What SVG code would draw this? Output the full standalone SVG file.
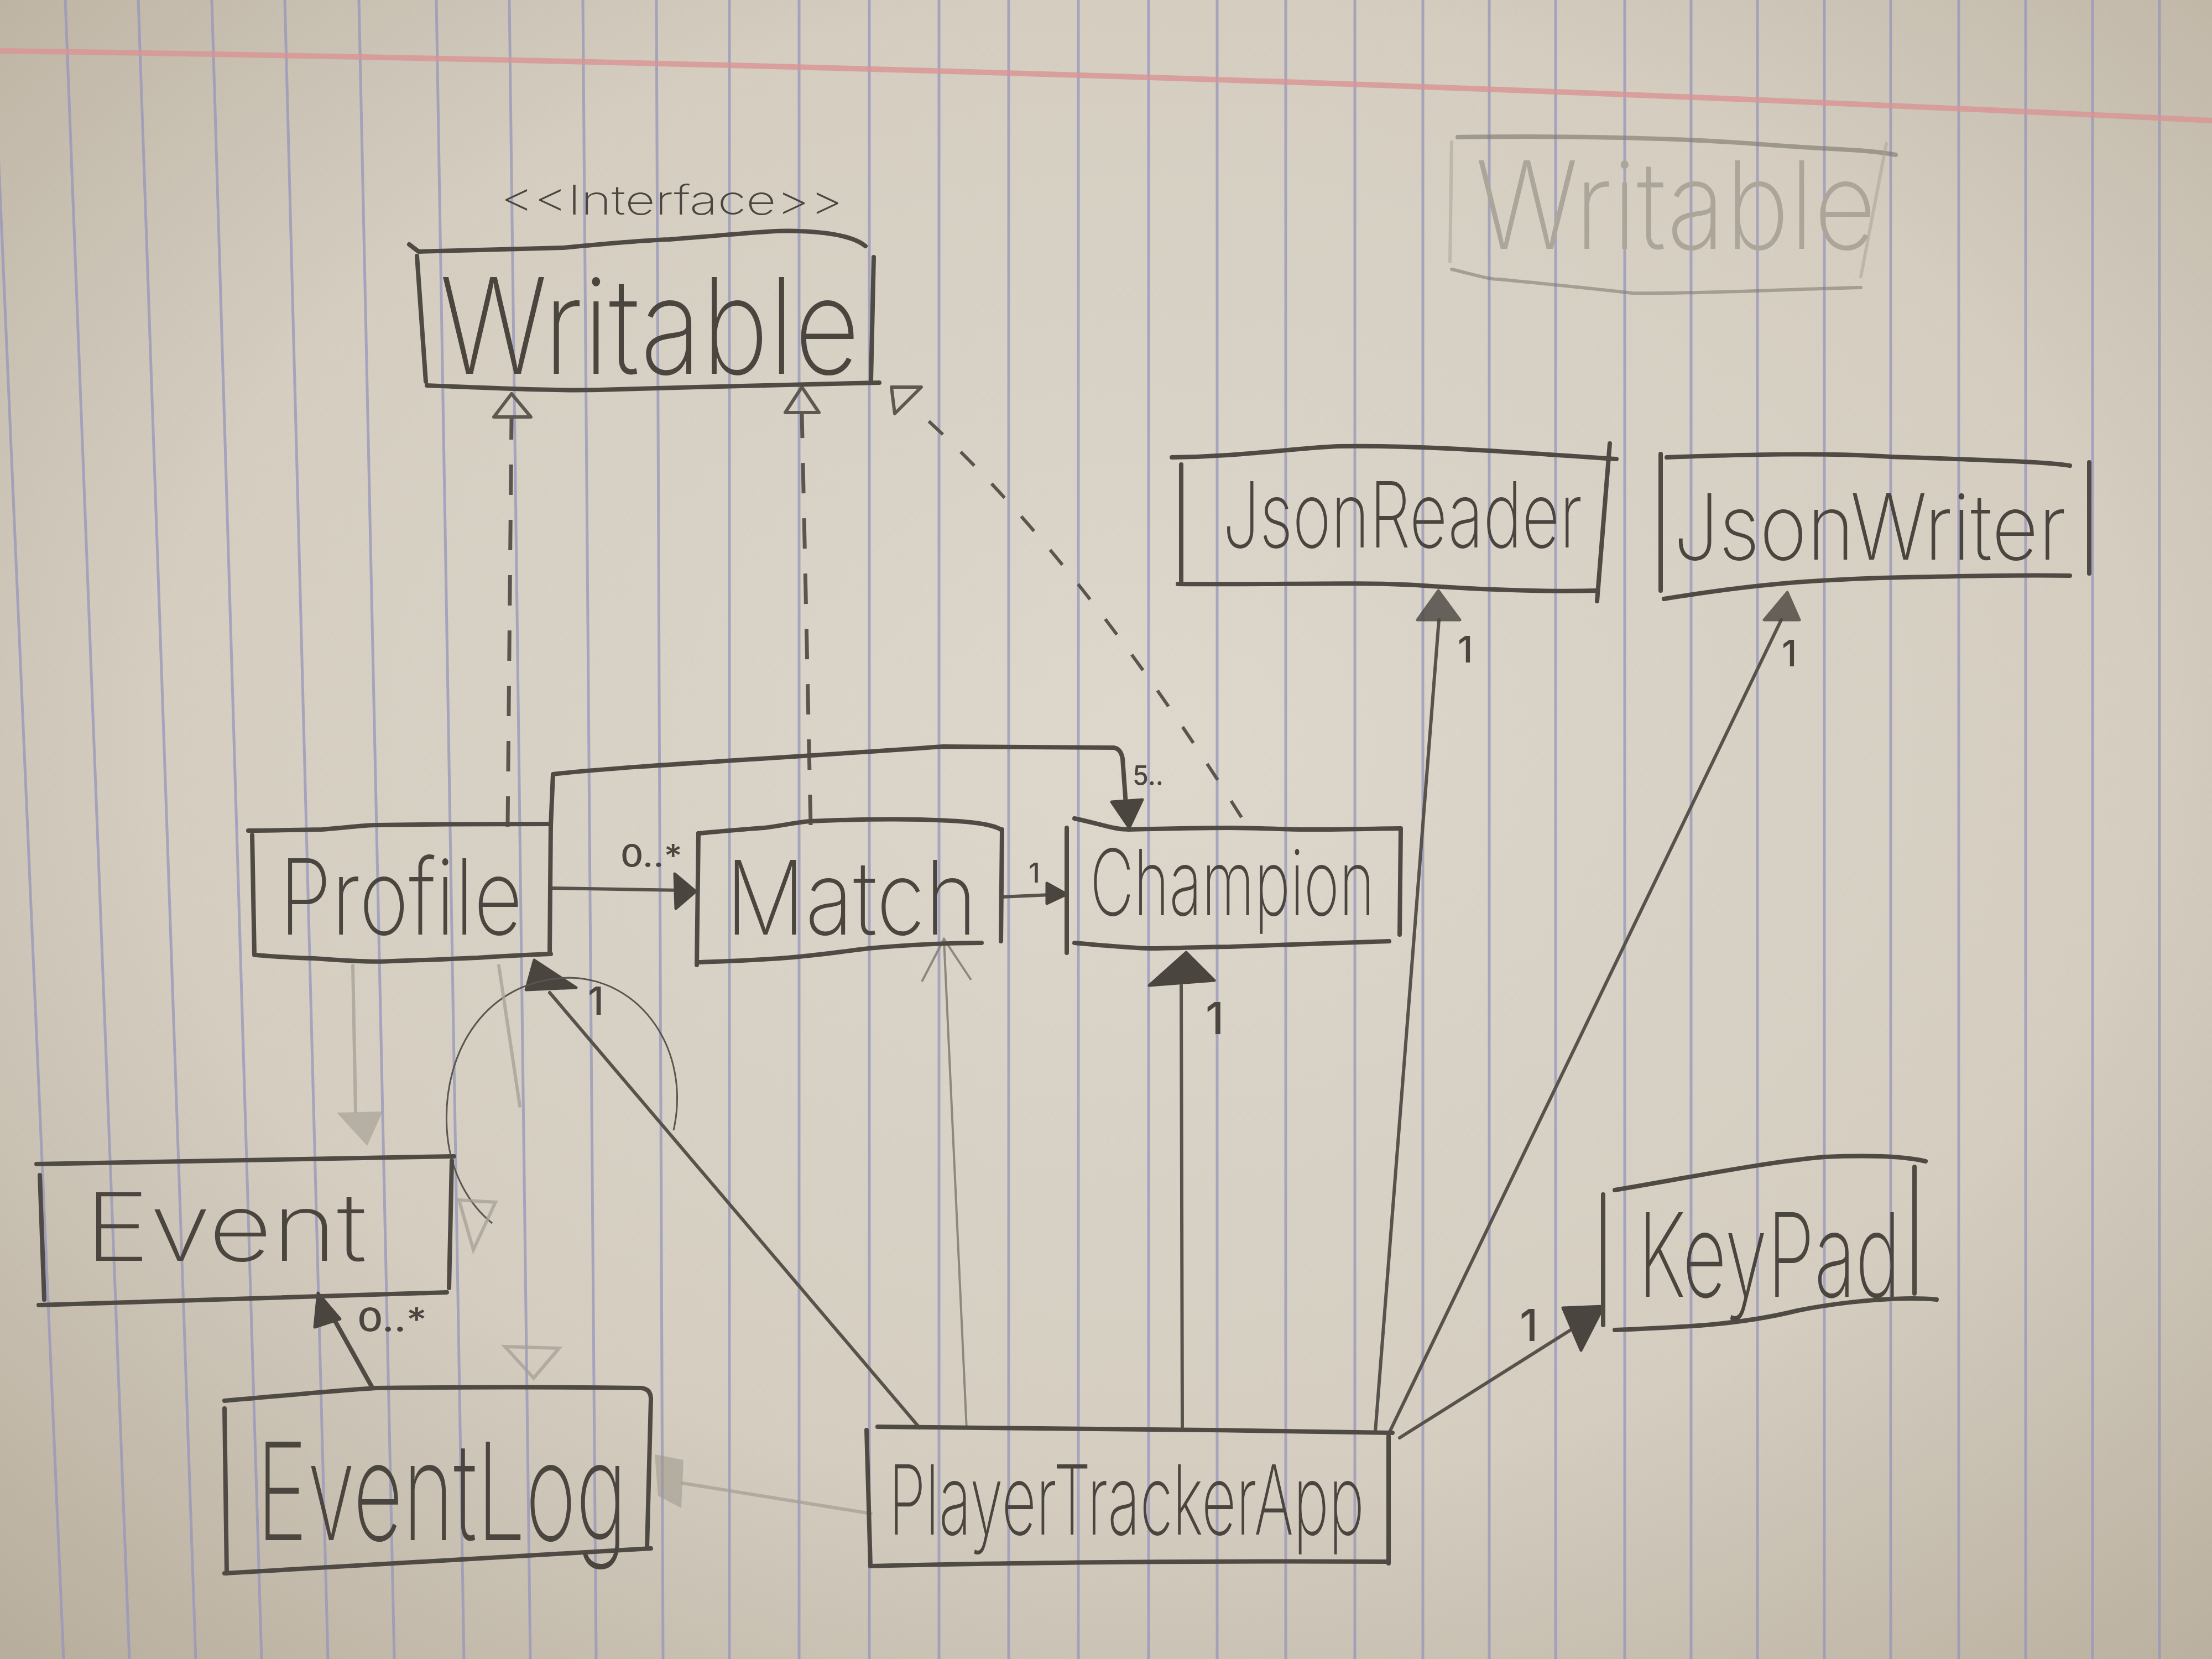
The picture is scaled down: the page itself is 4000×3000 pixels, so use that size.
<svg xmlns="http://www.w3.org/2000/svg" width="4000" height="3000" viewBox="0 0 4000 3000">
<defs>
<radialGradient id="paperGrad" cx="52%" cy="45%" r="75%">
<stop offset="0" stop-color="#ddd7cc"/>
<stop offset="0.6" stop-color="#d4cdc0"/>
<stop offset="1" stop-color="#b8ae9d"/>
</radialGradient>
<style>
.rule{stroke:#9596bb;stroke-width:5;fill:none;opacity:.75}
.ink{fill:none;stroke:#4f4a43;stroke-width:8;stroke-linecap:round;stroke-linejoin:round}
.conn{fill:none;stroke:#57524b;stroke-width:6;stroke-linecap:round}
.dash{fill:none;stroke:#5a554e;stroke-width:7;stroke-dasharray:55 45}
.dash2{fill:none;stroke:#5a554e;stroke-width:6;stroke-dasharray:35 45}
.faint{fill:none;stroke:#a59f95;stroke-width:6;opacity:.75;stroke-linecap:round}
.faintfill{fill:#9d978d;opacity:.55}
.head{fill:#4a453f;stroke:#4a453f;stroke-width:5;stroke-linejoin:round}
.open{fill:none;stroke:#5d5850;stroke-width:6;stroke-linejoin:round}
.lbl{font-family:Inter,Roboto,"DejaVu Sans",sans-serif;font-weight:200;fill:#4a453f}
.ghost{font-family:Inter,Roboto,"DejaVu Sans",sans-serif;font-weight:200;fill:#aca599}
.num{font-family:Inter,Roboto,"DejaVu Sans",sans-serif;font-weight:500;fill:#4a453f}
</style>
</defs>

<g id="paper">
<rect x="0" y="0" width="4000" height="3000" fill="url(#paperGrad)"/>
<path class="rule" d="M-15 0L115 3000M118 0L234 3000M250 0L354 3000M383 0L473 3000M515 0L593 3000M649 0L713 3000M789 0L839 3000M921 0L959 3000M1054 0L1078 3000M1187 0L1199 3000M1319 0V3000M1445 0V3000M1572 0V3000M1698 0V3000M1824 0V3000M1950 0V3000M2077 0V3000M2201 0V3000M2325 0V3000M2450 0V3000M2573 0V3000M2693 0V3000M2813 0V3000M2938 0V3000M3058 0V3000M3178 0V3000M3299 0V3000M3419 0V3000M3542 0V3000M3663 0V3000M3784 0V3000M3905 0V3000"/>
<path d="M0 92 Q2000 120 4000 218" fill="none" stroke="#d99494" stroke-width="10" opacity=".8"/>
</g>

<g id="connectors">
<!-- realizations to Writable -->
<path class="dash" d="M918 1495 L925 755"/>
<path class="open" d="M925 712 L893 754 L960 754 Z"/>
<path class="dash" d="M1466 1492 L1450 748"/>
<path class="open" d="M1450 700 L1420 746 L1481 746 Z"/>
<path class="dash2" d="M2245 1478 Q1940 992 1650 735"/>
<path class="open" d="M1612 700 L1666 700 L1618 748 Z"/>
<!-- Profile to Match -->
<path class="conn" d="M996 1606 L1235 1610"/>
<path class="head" d="M1220 1580 L1258 1612 L1222 1643 Z"/>
<text class="num" x="1122" y="1568" font-size="58" textLength="112" lengthAdjust="spacingAndGlyphs">0..*</text>
<!-- Match to Champion -->
<path class="conn" d="M1810 1622 L1900 1618"/>
<path class="head" d="M1893 1597 L1929 1617 L1893 1634 Z"/>
<text class="num" x="1860" y="1596" font-size="50">1</text>
<!-- Profile to Champion -->
<path class="ink" d="M996 1493 L1000 1400 C1130 1385 1400 1372 1705 1350 L2014 1352 Q2027 1354 2030 1372 L2036 1455"/>
<path class="head" d="M2010 1450 L2066 1446 L2042 1497 Z"/>
<text class="num" x="2048" y="1420" font-size="50" textLength="56" lengthAdjust="spacingAndGlyphs">5..</text>
<!-- PlayerTrackerApp to Profile -->
<path class="conn" d="M1663 2582 L994 1795"/>
<path class="head" d="M951 1790 L966 1736 L1042 1786 Z"/>
<text class="num" x="1063" y="1835" font-size="70">1</text>
<path d="M1218 2044 C1250 1900 1160 1770 1030 1768 C880 1770 800 1900 808 2040 C812 2120 850 2180 890 2212" fill="none" stroke="#5a554e" stroke-width="3"/>
<!-- PlayerTrackerApp to Match (light) -->
<path d="M1748 2585 L1707 1700" fill="none" stroke="#8d877e" stroke-width="4"/>
<path d="M1667 1775 L1707 1698 L1756 1772" fill="none" stroke="#8d877e" stroke-width="4"/>
<!-- PlayerTrackerApp to Champion -->
<path class="conn" d="M2138 2580 L2136 1782"/>
<path class="head" d="M2078 1782 L2145 1722 L2196 1773 Z"/>
<text class="num" x="2180" y="1870" font-size="80">1</text>
<!-- PlayerTrackerApp to JsonReader -->
<path class="conn" d="M2487 2589 L2602 1121"/>
<path class="head" d="M2601 1068 L2563 1121 L2640 1121 Z" opacity=".8"/>
<text class="num" x="2636" y="1198" font-size="66">1</text>
<!-- PlayerTrackerApp to JsonWriter -->
<path class="conn" d="M2513 2589 L3221 1121"/>
<path class="head" d="M3232 1071 L3190 1121 L3254 1121 Z" opacity=".8"/>
<text class="num" x="3222" y="1205" font-size="66">1</text>
<!-- PlayerTrackerApp to KeyPad -->
<path class="conn" d="M2531 2600 L2845 2402"/>
<path class="head" d="M2826 2365 L2900 2362 L2859 2442 Z"/>
<text class="num" x="2748" y="2425" font-size="80">1</text>
<!-- EventLog to Event -->
<path class="ink" d="M672 2507 L592 2364" stroke-width="10"/>
<path class="head" d="M569 2400 L575 2338 L615 2385 Z"/>
<text class="num" x="646" y="2408" font-size="60" textLength="126" lengthAdjust="spacingAndGlyphs">0..*</text>
<!-- erased / faint marks -->
<path class="faint" d="M638 1746 L643 2010"/>
<path class="faintfill" d="M609 2012 L692 2010 L664 2072 Z"/>
<path class="faint" d="M902 1746 L940 2000"/>
<path class="faint" d="M830 2170 L896 2174 L856 2260 Z"/>
<path class="faint" d="M913 2435 L1011 2438 L965 2492 Z"/>
<path class="faint" d="M1575 2737 L1234 2682"/>
<path class="faintfill" d="M1184 2630 L1236 2640 L1232 2727 L1190 2705 Z"/>
</g>

<g id="node-writable">
<path class="ink" d="M740 442 L757 455 C880 452 960 450 1019 448 C1100 440 1160 435 1210 433 C1320 425 1400 415 1446 418 C1500 420 1545 428 1565 445"/>
<path class="ink" d="M754 463 L770 690"/>
<path class="ink" d="M772 697 C900 702 1000 707 1083 705 C1250 700 1450 695 1590 692"/>
<path class="ink" d="M1580 465 L1575 688"/>
<text class="lbl" x="905" y="388" font-size="74" textLength="620" lengthAdjust="spacingAndGlyphs">&lt;&lt;Interface&gt;&gt;</text>
<text class="lbl" x="795" y="676" font-size="240" textLength="760" lengthAdjust="spacingAndGlyphs">Writable</text>
</g>

<g id="node-writable-erased">
<path class="ink" d="M2636 248 C2850 245 3050 250 3200 262 C3300 270 3380 270 3428 280" style="stroke:#7a746b;opacity:.6"/>
<path class="faint" d="M2625 257 L2622 473" style="opacity:.5"/>
<path class="faint" d="M3411 260 L3365 500" style="opacity:.5"/>
<path class="ink" d="M2625 487 C2660 495 2690 505 2711 505 C2780 512 2837 517 2952 530 C3050 532 3200 524 3365 520" style="stroke:#7a746b;stroke-width:6;opacity:.55"/>
<text class="ghost" x="2668" y="450" font-size="220" textLength="725" lengthAdjust="spacingAndGlyphs">Writable</text>
</g>

<g id="node-jsonreader">
<path class="ink" d="M2119 827 C2250 825 2320 812 2420 807 C2560 805 2700 815 2923 830"/>
<path class="ink" d="M2136 840 L2136 1052"/>
<path class="ink" d="M2911 802 L2888 1087"/>
<path class="ink" d="M2130 1056 C2300 1058 2450 1052 2560 1058 C2700 1068 2800 1070 2888 1068"/>
<text class="lbl" transform="translate(2211 990) scale(1 1.25)" x="0" y="0" font-size="132" textLength="650" lengthAdjust="spacingAndGlyphs">JsonReader</text>
</g>

<g id="node-jsonwriter">
<path class="ink" d="M3014 827 C3150 822 3300 818 3420 826 C3600 832 3700 835 3743 842"/>
<path class="ink" d="M3003 821 L3003 1068"/>
<path class="ink" d="M3778 836 L3778 1037"/>
<path class="ink" d="M3009 1083 C3150 1060 3250 1050 3400 1045 C3600 1040 3700 1040 3743 1041"/>
<text class="lbl" x="3026" y="1012" font-size="165" textLength="710" lengthAdjust="spacingAndGlyphs">JsonWriter</text>
</g>

<g id="node-profile">
<path class="ink" d="M449 1502 C500 1502 560 1500 582 1500 C630 1496 660 1492 681 1492 C800 1490 900 1490 996 1490"/>
<path class="ink" d="M456 1510 L460 1727"/>
<path class="ink" d="M996 1490 L994 1725"/>
<path class="ink" d="M463 1727 C500 1730 540 1733 568 1733 C620 1737 680 1740 709 1738 C780 1736 830 1733 863 1732 C920 1728 970 1726 996 1725"/>
<text class="lbl" x="505" y="1690" font-size="190" textLength="440" lengthAdjust="spacingAndGlyphs">Profile</text>
</g>

<g id="node-match">
<path class="ink" d="M1263 1507 C1320 1502 1360 1498 1382 1497 C1420 1492 1445 1486 1466 1485 C1560 1481 1620 1481 1663 1482 C1740 1484 1790 1488 1810 1500"/>
<path class="ink" d="M1263 1507 L1260 1745"/>
<path class="ink" d="M1812 1500 L1810 1702"/>
<path class="ink" d="M1263 1740 C1330 1738 1380 1735 1410 1733 C1500 1726 1550 1716 1593 1713 C1680 1706 1740 1705 1775 1705"/>
<text class="lbl" x="1312" y="1690" font-size="185" textLength="455" lengthAdjust="spacingAndGlyphs">Match</text>
</g>

<g id="node-champion">
<path class="ink" d="M1943 1480 C1990 1490 2015 1500 2041 1500 C2120 1498 2180 1497 2224 1497 C2300 1498 2330 1500 2364 1500 C2450 1500 2500 1498 2533 1498"/>
<path class="ink" d="M1929 1497 L1929 1723"/>
<path class="ink" d="M2533 1500 L2531 1690"/>
<path class="ink" d="M1943 1705 C2000 1710 2050 1715 2084 1715 C2150 1714 2190 1712 2224 1712 C2350 1708 2450 1705 2512 1702"/>
<text class="lbl" x="1971" y="1655" font-size="165" textLength="515" lengthAdjust="spacingAndGlyphs">Champion</text>
</g>

<g id="node-event">
<path class="ink" d="M66 2105 L821 2091"/>
<path class="ink" d="M72 2125 L80 2350"/>
<path class="ink" d="M817 2099 L812 2329"/>
<path class="ink" d="M70 2360 L808 2337"/>
<text class="lbl" x="153" y="2280" font-size="170" textLength="510" lengthAdjust="spacingAndGlyphs">Event</text>
</g>

<g id="node-eventlog">
<path class="ink" d="M406 2533 C500 2525 600 2515 680 2510 C850 2508 1000 2508 1160 2510 Q1177 2512 1177 2530"/>
<path class="ink" d="M406 2547 L410 2845"/>
<path class="ink" d="M1177 2530 L1170 2800"/>
<path class="ink" d="M406 2845 C700 2830 950 2815 1177 2800"/>
<text class="lbl" x="464" y="2785" font-size="245" textLength="670" lengthAdjust="spacingAndGlyphs">EventLog</text>
</g>

<g id="node-playertrackerapp">
<path class="ink" d="M1587 2580 C1800 2582 2200 2585 2518 2591"/>
<path class="ink" d="M1567 2586 L1574 2832"/>
<path class="ink" d="M2511 2597 L2511 2827"/>
<path class="ink" d="M1574 2832 C1800 2826 2200 2822 2511 2824"/>
<text class="lbl" x="1607" y="2775" font-size="175" textLength="860" lengthAdjust="spacingAndGlyphs">PlayerTrackerApp</text>
</g>

<g id="node-keypad">
<path class="ink" d="M2920 2152 C3050 2130 3200 2100 3300 2092 C3400 2088 3450 2092 3482 2100"/>
<path class="ink" d="M2899 2160 L2899 2396"/>
<path class="ink" d="M3462 2110 L3462 2339"/>
<path class="ink" d="M2920 2405 C3050 2400 3150 2395 3250 2370 C3350 2350 3450 2345 3502 2350"/>
<text class="lbl" x="2962" y="2345" font-size="210" textLength="475" lengthAdjust="spacingAndGlyphs">KeyPad</text>
</g>
</svg>
